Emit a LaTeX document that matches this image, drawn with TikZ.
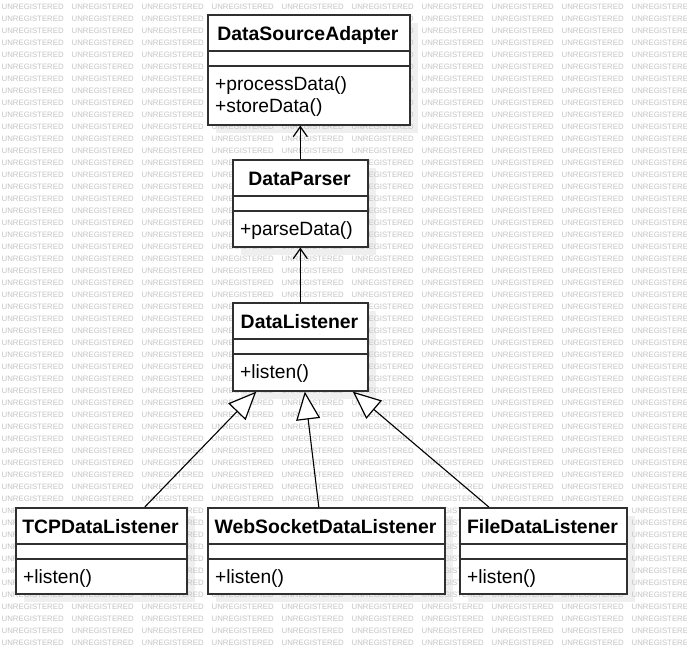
\documentclass[tikz,border=0pt]{standalone}
\usepackage{fontspec}
\setmainfont{Liberation Sans}
\usetikzlibrary{arrows.meta}
\definecolor{wm}{HTML}{C4C4C4}
\definecolor{shade}{HTML}{EFEFEF}
\definecolor{edge}{HTML}{303030}
\tikzset{
  cls/.style={draw=edge, line width=1.6pt, fill=white, inner sep=0pt, anchor=north west},
  cmp/.style={draw=edge, line width=1.1pt},
  ttl/.style={font=\bfseries\fontsize{19.4}{21}\selectfont, anchor=base, inner sep=0pt},
  mth/.style={font=\fontsize{19.2}{22}\selectfont, anchor=base west, inner sep=0pt},
  wmark/.style={font=\fontsize{7.8}{8}\selectfont, text=wm, anchor=west, inner sep=0pt},
  shadowbox/.style={fill=shade, draw=none},
  dep/.style={draw=black, line width=1.1pt, -{Straight Barb[length=10pt,width=14pt,line width=1.2pt]}},
  gen/.style={draw=black, line width=1.1pt, -{Triangle[fill=white,length=28pt,width=24pt,line width=1.2pt]}},
}
% #1 name, #2 x1, #3 y1, #4 x2, #5 y bottom, #6 title, #7 first method
\newcommand\umlclass[7]{%
  \node[cls, minimum width={#4pt-#2pt}, minimum height={#5pt-#3pt}] (#1) at (#2,#3) {};
  \draw[cmp] ({#2},{#3+37}) -- ({#4},{#3+37});
  \draw[cmp] ({#2},{#3+52}) -- ({#4},{#3+52});
  \node[ttl] (#1-t) at ({(#2+#4)/2},{#3+26}) {#6};
  \node[mth] (#1-m) at ({#2+8},{#3+76}) {#7};
}
\newcommand\shadowof[4]{\fill[shadowbox] ({#1+9},{#2+9}) rectangle ({#3+9},{#4+9});}
\begin{document}
\begin{tikzpicture}[x=1pt,y=-1pt]
\useasboundingbox[fill=white] (0,0) rectangle (687,654);
% shadows
\shadowof{207}{14}{409}{124}
\shadowof{232}{159}{367}{246}
\shadowof{232}{302}{367}{390}
\shadowof{15}{507}{186}{593}
\shadowof{207}{507}{444}{593}
\shadowof{459}{507}{626}{593}
% watermark
\foreach \r in {0,...,53}{
  \foreach \c in {0,...,9}{
    \node[wmark] (w-\r-\c) at ({1.5+70*\c},{7+12*\r}) {UNREGISTERED};
  }
}
% classes
\umlclass{DSA}{207}{14}{409}{124}{DataSourceAdapter}{+processData()}
\node[mth] (DSA-m2) at (215,112) {+storeData()};
\umlclass{DP}{232}{159}{367}{246}{DataParser}{+parseData()}
\umlclass{DL}{232}{302}{367}{390}{DataListener}{+listen()}
\umlclass{TCP}{15}{507}{186}{593}{TCPDataListener}{+listen()}
\umlclass{WS}{207}{507}{444}{593}{WebSocketDataListener}{+listen()}
\umlclass{FL}{459}{507}{626}{593}{FileDataListener}{+listen()}
% connectors
\draw[dep] (DP.north) -- (DP.north |- DSA.south);
\draw[dep] (DL.north) -- (DP.south);
\draw[gen] ([xshift=43.5pt]TCP.north) -- ([xshift=-44pt]DL.south);
\draw[gen] ([xshift=-7.5pt]WS.north) -- ([xshift=4.5pt]DL.south);
\draw[gen] ([xshift=-54.5pt]FL.north) -- ([xshift=52.5pt]DL.south);
\end{tikzpicture}
\end{document}
